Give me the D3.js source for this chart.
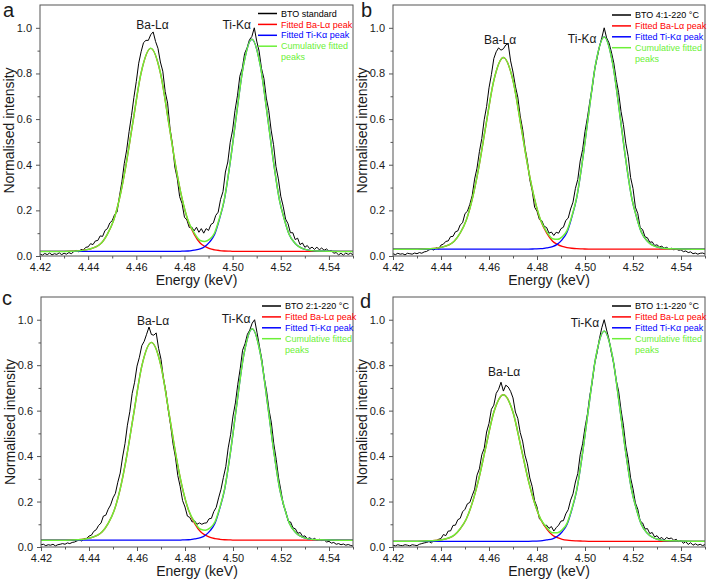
<!DOCTYPE html>
<html><head><meta charset="utf-8">
<script src="https://cdn.jsdelivr.net/npm/d3@7"></script>
<style>body{margin:0;background:#fff}svg{display:block;font-family:"Liberation Sans",Arial,sans-serif}</style>
</head><body><svg id="chart" width="709" height="585"></svg>
<script>
// ---------- DATA ----------
const energyTicks = [4.42,4.44,4.46,4.48,4.50,4.52,4.54];
const energyMinorTicks = [4.43,4.45,4.47,4.49,4.51,4.53,4.55];
const intensityTicks = [0,0.2,0.4,0.6,0.8,1.0];
const intensityMinorTicks = [0.1,0.3,0.5,0.7,0.9];
const panelLetters = ["a","b","c","d"];
const sampleNames = ["BTO standard","BTO 4:1-220 °C","BTO 2:1-220 °C","BTO 1:1-220 °C"];
const legendLabels = ["Fitted Ba-Lα peak","Fitted Ti-Kα peak","Cumulative fitted","peaks"];
const peakNames = ["Ba-Lα","Ti-Kα"];

// measured spectra, energy grid (keV)
const dataE = [4.420,4.421,4.422,4.423,4.424,4.425,4.426,4.427,4.428,4.429,4.430,4.431,4.432,4.433,4.434,4.435,4.436,4.437,4.438,4.439,4.440,4.441,4.442,4.443,4.444,4.445,4.446,4.447,4.448,4.449,4.450,4.451,4.452,4.453,4.454,4.455,4.456,4.457,4.458,4.459,4.460,4.461,4.462,4.463,4.464,4.465,4.466,4.467,4.468,4.469,4.470,4.471,4.472,4.473,4.474,4.475,4.476,4.477,4.478,4.479,4.480,4.481,4.482,4.483,4.484,4.485,4.486,4.487,4.488,4.489,4.490,4.491,4.492,4.493,4.494,4.495,4.496,4.497,4.498,4.499,4.500,4.501,4.502,4.503,4.504,4.505,4.506,4.507,4.508,4.509,4.510,4.511,4.512,4.513,4.514,4.515,4.516,4.517,4.518,4.519,4.520,4.521,4.522,4.523,4.524,4.525,4.526,4.527,4.528,4.529,4.530,4.531,4.532,4.533,4.534,4.535,4.536,4.537,4.538,4.539,4.540,4.541,4.542,4.543,4.544,4.545,4.546,4.547,4.548,4.549,4.550];
const measA = [.009,.004,.011,.006,.013,.005,.010,.007,.014,.006,.012,.008,.015,.010,.019,
 .024,.018,.029,.026,.038,.040,.054,.050,.066,.068,.088,.086,.112,.120,.145,.155,.182,.192,
 .262,.325,.405,.465,.545,.615,.695,.765,.845,.895,.935,.945,.945,.970,.982,
 .940,.910,.850,.810,.720,.670,.560,.490,.390,.340,.260,.230,.170,.158,.125,.127,.110,.126,.104,.120,.100,.120,.112,
 .138,.145,.178,.192,.248,.282,.368,.412,.498,.552,.638,.702,.788,.822,.888,.912,.948,.962,1.00,
 .942,.898,.822,.778,.692,.638,.552,.488,.392,.338,.262,.218,.162,.142,.102,.102,.072,.078,.050,.057,.038,
 .046,.032,.039,.029,.039,.027,.035,.025,.031,.021,.024,.012,.015,.005,.012,.004,.013,.007,.012,.005];
const measB = [.010,.006,.012,.008,.010,.005,.012,.010,.008,.013,.010,.015,.012,.018,.020,
 .027,.030,.026,.036,.031,.048,.052,.064,.066,.085,.086,.106,.110,.136,.146,.186,.196,.226,
 .265,.337,.385,.457,.515,.597,.655,.737,.795,.865,.895,.912,.902,.908,.925,
 .930,.855,.806,.744,.696,.614,.556,.474,.416,.334,.286,.214,.196,.160,.155,.130,.125,.100,.105,.090,.104,.100,.120,
 .126,.156,.166,.206,.236,.296,.336,.416,.466,.546,.606,.676,.736,.816,.866,.916,.956,1.00,.956,
 .934,.894,.846,.774,.716,.634,.576,.494,.436,.344,.296,.214,.186,.124,.116,.084,.080,.060,.062,.046,.049,
 .040,.043,.034,.038,.031,.034,.027,.031,.025,.027,.019,.022,.015,.018,.010,.013,.008,.012,.013,.009];
const measC = [.010,.012,.006,.010,.008,.012,.005,.010,.012,.015,.012,.018,.015,.020,.022,
 .027,.031,.026,.037,.038,.048,.052,.069,.076,.095,.105,.136,.140,.166,.185,.216,.236,.285,
 .325,.396,.455,.536,.595,.676,.725,.796,.835,.886,.905,.936,.968,.935,.932,
 .942,.874,.826,.744,.686,.604,.536,.454,.396,.314,.266,.204,.176,.136,.130,.110,.115,.100,.106,.100,.105,.106,.124,
 .126,.156,.174,.216,.254,.306,.354,.436,.494,.576,.634,.716,.784,.866,.894,.936,.955,.985,1.00,
 .944,.884,.826,.744,.686,.604,.546,.454,.386,.304,.246,.184,.156,.114,.110,.084,.080,.060,.064,.046,.049,
 .036,.041,.032,.038,.029,.034,.028,.031,.022,.025,.017,.020,.012,.015,.010,.013,.008,.011,.007,.004];
const measD = [.008,.005,.010,.007,.006,.010,.008,.005,.010,.008,.006,.012,.015,.018,.020,
 .024,.018,.028,.026,.034,.037,.055,.050,.070,.071,.095,.096,.120,.126,.155,.166,.190,.196,
 .226,.254,.316,.344,.406,.434,.506,.544,.606,.624,.676,.694,.725,.686,.712,
 .704,.685,.656,.594,.566,.504,.466,.404,.366,.304,.266,.204,.176,.124,.116,.094,.096,.082,.090,.070,.085,.096,.114,
 .116,.146,.164,.206,.234,.286,.324,.406,.454,.526,.584,.666,.724,.806,.854,.916,.965,1.00,.955,
 .914,.854,.806,.734,.686,.604,.536,.444,.386,.304,.256,.194,.166,.114,.106,.079,.081,.059,.064,.044,.050,
 .036,.042,.031,.042,.036,.040,.029,.034,.024,.029,.016,.024,.011,.019,.008,.014,.008,.012,.006,.011];

// fitted curves, energy grid (keV)
const fitE = [4.42,4.43,4.4355,4.4405,4.4455,4.448,4.4505,4.453,4.4555,4.4585,4.462,4.466,4.47,4.4735,4.4765,4.479,4.4815,4.484,4.4865,4.4885,4.4905,4.4925,4.4945,4.4965,4.499,4.5015,4.5045,4.508,4.5115,4.5145,4.517,4.5195,4.5215,4.5235,4.526,4.5305,4.535,4.545,4.55];
const baFitA = [.020,.020,.022,.030,.057,.096,.154,.251,.385,.581,.803,.910,.803,.581,.385,.251,.154,.096,.057,.042,.032,.027,.024,.022,.021,.020,.020,.020,.020,.020,.020,.020,.020,.020,.020,.020,.020,.020,.020];
const tiFitA = [.020,.020,.020,.020,.020,.020,.020,.020,.020,.020,.020,.020,.020,.020,.020,.021,.022,.026,.031,.042,.062,.094,.160,.243,.411,.611,.835,.950,.835,.611,.411,.243,.160,.094,.055,.028,.022,.020,.020];
const cumFitA = [.020,.020,.022,.030,.057,.096,.154,.251,.385,.581,.803,.910,.803,.581,.385,.252,.156,.102,.068,.064,.074,.101,.164,.245,.412,.611,.835,.950,.835,.611,.411,.243,.160,.094,.055,.028,.022,.020,.020];
const baFitB = [.030,.030,.032,.039,.065,.101,.156,.248,.374,.559,.769,.870,.769,.559,.374,.248,.156,.101,.065,.051,.042,.037,.034,.032,.031,.030,.030,.030,.030,.030,.030,.030,.030,.030,.030,.030,.030,.030,.030];
const tiFitB = [.030,.030,.030,.030,.030,.030,.030,.030,.030,.030,.030,.030,.030,.030,.030,.031,.032,.036,.041,.052,.072,.104,.170,.253,.421,.621,.845,.960,.845,.621,.421,.253,.170,.104,.065,.038,.032,.030,.030];
const cumFitB = [.030,.030,.032,.039,.065,.101,.156,.248,.374,.559,.769,.870,.769,.559,.374,.249,.158,.107,.076,.073,.084,.111,.174,.255,.422,.621,.845,.960,.845,.621,.421,.253,.170,.104,.065,.038,.032,.030,.030];
const baFitC = [.030,.030,.032,.040,.067,.104,.161,.256,.387,.578,.796,.900,.796,.578,.387,.256,.161,.104,.067,.052,.042,.037,.034,.032,.031,.030,.030,.030,.030,.030,.030,.030,.030,.030,.030,.030,.030,.030,.030];
const tiFitC = [.030,.030,.030,.030,.030,.030,.030,.030,.030,.030,.030,.030,.030,.030,.030,.031,.032,.036,.041,.052,.072,.104,.170,.253,.421,.621,.845,.960,.845,.621,.421,.253,.170,.104,.065,.038,.032,.030,.030];
const cumFitC = [.030,.030,.032,.040,.067,.104,.161,.256,.387,.578,.796,.900,.796,.578,.387,.257,.163,.110,.078,.074,.084,.111,.174,.255,.422,.621,.845,.960,.845,.621,.421,.253,.170,.104,.065,.038,.032,.030,.030];
const baFitD = [.025,.025,.027,.032,.052,.080,.122,.193,.289,.431,.593,.670,.593,.431,.289,.193,.122,.080,.052,.041,.034,.030,.028,.027,.026,.025,.025,.025,.025,.025,.025,.025,.025,.025,.025,.025,.025,.025,.025];
const tiFitD = [.025,.025,.025,.025,.025,.025,.025,.025,.025,.025,.025,.025,.025,.025,.025,.026,.027,.031,.036,.047,.067,.099,.164,.247,.414,.612,.835,.950,.835,.612,.414,.247,.164,.099,.060,.033,.027,.025,.025];
const cumFitD = [.025,.025,.027,.032,.052,.080,.122,.193,.289,.431,.593,.670,.593,.431,.289,.194,.124,.086,.063,.063,.076,.104,.167,.249,.415,.612,.835,.950,.835,.612,.414,.247,.164,.099,.060,.033,.027,.025,.025];

// peak label anchors [energy, intensity]
const peakPosA = [[4.4667,1.013],[4.5017,1.013]];
const peakPosB = [[4.4646,0.947],[4.4988,0.952]];
const peakPosC = [[4.4667,0.996],[4.5013,1.003]];
const peakPosD = [[4.4663,0.771],[4.5000,0.985]];

// ---------- LAYOUT ----------
const COLORS = {meas:"#000", ba:"#ff0000", ti:"#0000ff", cum:"#6cf038", frame:"#555", text:"#1a1a1a"};
const panels = [
  {meas:measA, ba:baFitA, ti:tiFitA, cum:cumFitA, peaks:peakPosA, box:[40,5,353,256], letter:[3,17], legend:[258,13.5]},
  {meas:measB, ba:baFitB, ti:tiFitB, cum:cumFitB, peaks:peakPosB, box:[393,5,705,256], letter:[361,17], legend:[612,15]},
  {meas:measC, ba:baFitC, ti:tiFitC, cum:cumFitC, peaks:peakPosC, box:[41,297,353,547], letter:[2,305], legend:[262,306]},
  {meas:measD, ba:baFitD, ti:tiFitD, cum:cumFitD, peaks:peakPosD, box:[393,297,705,547], letter:[360,308], legend:[612,306]}
];

const svg = d3.select("#chart");
const fmtX = d3.format(".2f"), fmtY = d3.format(".1f");

panels.forEach((p, i) => {
  const [x0, y0, x1, y1] = p.box;
  const x = d3.scaleLinear().domain([4.42, 4.55]).range([x0, x1]);
  const y = d3.scaleLinear().domain([0, 1.1]).range([y1, y0]);
  const g = svg.append("g");
  const cid = "clip" + i;
  svg.append("clipPath").attr("id", cid).append("rect")
    .attr("x", x0).attr("y", y0).attr("width", x1 - x0).attr("height", y1 - y0);

  const ax = g.append("g").attr("transform", `translate(0,${y1})`)
    .call(d3.axisBottom(x).tickValues(energyTicks).tickFormat(fmtX).tickSize(4).tickPadding(3));
  const axm = g.append("g").attr("transform", `translate(0,${y1})`)
    .call(d3.axisBottom(x).tickValues(energyMinorTicks).tickFormat("").tickSize(2.5));
  const ay = g.append("g").attr("transform", `translate(${x0},0)`)
    .call(d3.axisLeft(y).tickValues(intensityTicks).tickFormat(fmtY).tickSize(4).tickPadding(4));
  const aym = g.append("g").attr("transform", `translate(${x0},0)`)
    .call(d3.axisLeft(y).tickValues(intensityMinorTicks).tickFormat("").tickSize(2.5));
  [ax, axm, ay, aym].forEach(a => {
    a.select(".domain").remove();
    a.selectAll(".tick line").attr("stroke", COLORS.frame);
    a.selectAll(".tick text").attr("fill", COLORS.text).style("font-size", "11px");
  });

  const lineM = d3.line().x((d, k) => x(dataE[k])).y(d => y(d));
  const lineF = d3.line().x((d, k) => x(fitE[k])).y(d => y(d)).curve(d3.curveMonotoneX);
  const lg = g.append("g").attr("clip-path", `url(#${cid})`);
  lg.append("path").attr("d", lineM(p.meas)).attr("fill", "none").attr("stroke", COLORS.meas).attr("stroke-width", 1);
  lg.append("path").attr("d", lineF(p.ba)).attr("fill", "none").attr("stroke", COLORS.ba).attr("stroke-width", 1.3);
  lg.append("path").attr("d", lineF(p.ti)).attr("fill", "none").attr("stroke", COLORS.ti).attr("stroke-width", 1.3);
  lg.append("path").attr("d", lineF(p.cum)).attr("fill", "none").attr("stroke", COLORS.cum).attr("stroke-width", 1.5);

  g.append("rect").attr("x", x0).attr("y", y0).attr("width", x1 - x0).attr("height", y1 - y0)
    .attr("fill", "none").attr("stroke", COLORS.frame).attr("stroke-width", 1);

  p.peaks.forEach((pp, k) => {
    g.append("text").attr("x", x(pp[0])).attr("y", y(pp[1])).attr("dy", "0.35em")
      .attr("text-anchor", "middle").style("font-size", "12px").attr("fill", COLORS.text).text(peakNames[k]);
  });

  g.append("text").attr("x", (x0 + x1) / 2).attr("y", y1 + 29).attr("text-anchor", "middle")
    .style("font-size", "14px").attr("fill", COLORS.text).text("Energy (keV)");
  g.append("text").attr("transform", `translate(${x0 - 31},${(y0 + y1) / 2}) rotate(-90)`)
    .attr("dy", "0.35em").attr("text-anchor", "middle")
    .style("font-size", "14px").attr("fill", COLORS.text).text("Normalised intensity");

  g.append("text").attr("x", p.letter[0]).attr("y", p.letter[1]).style("font-size", "20px")
    .attr("fill", COLORS.text).text(panelLetters[i]);

  const [lx, ly] = p.legend;
  const rows = [
    {label: sampleNames[i], color: COLORS.meas, line: true},
    {label: legendLabels[0], color: COLORS.ba, line: true},
    {label: legendLabels[1], color: COLORS.ti, line: true},
    {label: legendLabels[2], color: COLORS.cum, line: true},
    {label: legendLabels[3], color: COLORS.cum, line: false}
  ];
  rows.forEach((r, k) => {
    const yy = ly + k * 10.9;
    if (r.line) g.append("line").attr("x1", lx).attr("x2", lx + 19).attr("y1", yy).attr("y2", yy)
      .attr("stroke", r.color).attr("stroke-width", 1.5);
    g.append("text").attr("x", lx + 23).attr("y", yy).attr("dy", "0.35em").style("font-size", "9px")
      .attr("fill", r.color).text(r.label);
  });
});
</script></body></html>
